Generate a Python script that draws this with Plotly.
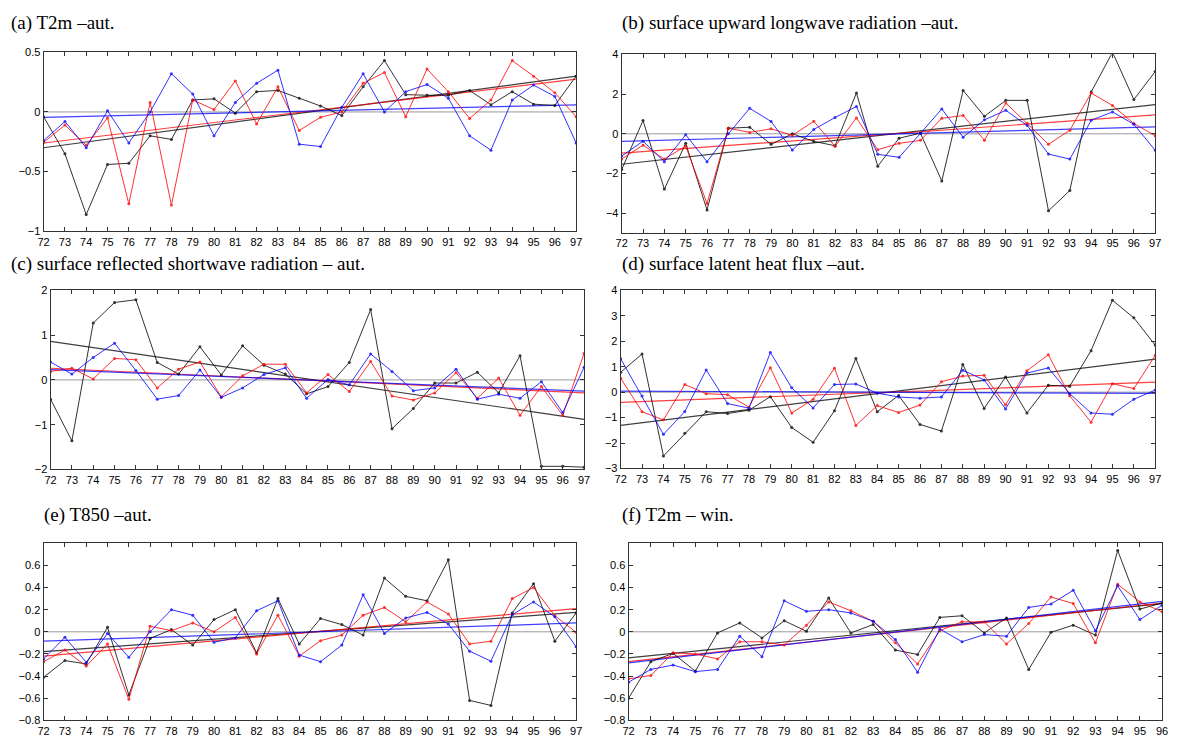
import plotly.graph_objects as go

years = [72, 73, 74, 75, 76, 77, 78, 79, 80, 81, 82, 83, 84,
         85, 86, 87, 88, 89, 90, 91, 92, 93, 94, 95, 96, 97]
years_win = years[:-1]

# (a) T2m aut
a_black = [-0.04, -0.35, -0.86, -0.44, -0.43, -0.20, -0.23, 0.10, 0.11, -0.01, 0.17, 0.18, 0.115,
           0.05, -0.03, 0.21, 0.43, 0.145, 0.14, 0.14, 0.18, 0.06, 0.17, 0.065, 0.055, 0.30]
a_red = [-0.255, -0.11, -0.28, -0.05, -0.77, 0.08, -0.78, 0.10, 0.02, 0.26, -0.10, 0.21, -0.155,
         -0.045, 0.00, 0.24, 0.33, -0.04, 0.36, 0.17, -0.055, 0.10, 0.43, 0.30, 0.16, -0.04]
a_blue = [-0.24, -0.08, -0.30, 0.01, -0.26, 0.00, 0.32, 0.15, -0.20, 0.08, 0.24, 0.35, -0.27,
          -0.29, 0.04, 0.32, 0.00, 0.17, 0.23, 0.115, -0.20, -0.32, 0.10, 0.225, 0.13, -0.26]
a_trend = {"black": [-0.30, 0.30], "red": [-0.26, 0.275], "blue": [-0.045, 0.06]}

# (b) surface upward longwave radiation aut
b_black = [-1.8, 0.67, -2.78, -0.48, -3.83, 0.28, 0.33, -0.53, 0.0, -0.38, -0.6, 2.05, -1.63,
           -0.22, 0.03, -2.37, 2.18, 0.88, 1.68, 1.68, -3.87, -2.85, 2.1, 4.1, 1.72, 3.13]
b_red = [-1.27, -0.57, -1.27, -0.62, -3.5, 0.28, 0.07, 0.25, -0.08, 0.63, -0.63, 0.8, -0.8,
         -0.48, -0.33, 0.78, 0.92, -0.32, 1.55, 0.53, -0.53, 0.18, 2.05, 1.42, 0.52, -0.1]
b_blue = [-1.12, -0.37, -1.4, -0.05, -1.4, 0.0, 1.28, 0.62, -0.82, 0.22, 0.82, 1.37, -1.03,
          -1.18, 0.02, 1.25, -0.17, 0.7, 1.18, 0.42, -1.02, -1.27, 0.68, 1.1, 0.48, -0.83]
b_trend = {"black": [-1.53, 1.47], "red": [-0.97, 0.95], "blue": [-0.38, 0.35]}

# (c) surface reflected shortwave radiation aut
c_black = [-0.43, -1.36, 1.27, 1.73, 1.79, 0.39, 0.13, 0.74, 0.11, 0.76, 0.33, 0.13, -0.31,
           -0.15, 0.39, 1.57, -1.09, -0.64, -0.07, -0.07, 0.17, -0.29, 0.54, -1.93, -1.93, -1.95]
c_red = [0.19, 0.26, 0.02, 0.48, 0.45, -0.18, 0.24, 0.40, -0.38, 0.09, 0.35, 0.35, -0.29,
         0.12, -0.26, 0.41, -0.36, -0.45, -0.29, 0.16, -0.41, 0.04, -0.79, -0.15, -0.79, 0.59]
c_blue = [0.40, 0.13, 0.50, 0.82, 0.21, -0.43, -0.35, 0.22, -0.39, -0.18, 0.12, 0.27, -0.41,
          0.01, -0.11, 0.58, 0.19, -0.24, -0.18, 0.24, -0.43, -0.32, -0.41, -0.04, -0.73, 0.28]
c_trend = {"black": [0.86, -0.88], "red": [0.26, -0.29], "blue": [0.23, -0.25]}

# (d) surface latent heat flux aut
d_black = [0.78, 1.50, -2.51, -1.62, -0.77, -0.84, -0.71, -0.18, -1.39, -1.97, -0.73, 1.32, -0.77,
           -0.13, -1.27, -1.53, 1.09, -0.64, 0.59, -0.82, 0.27, 0.23, 1.63, 3.61, 2.92, 1.85]
d_red = [0.55, -0.77, -1.09, 0.30, -0.06, -0.10, -0.59, 0.96, -0.82, -0.28, 0.94, -1.31, -0.53,
         -0.80, -0.51, 0.41, 0.63, 0.66, -0.50, 0.84, 1.47, -0.14, -1.18, 0.33, 0.14, 1.44]
d_blue = [1.31, -0.15, -1.66, -0.76, 0.87, -0.45, -0.63, 1.56, 0.17, -0.62, 0.30, 0.32, -0.04,
          -0.19, -0.24, -0.19, 0.86, 0.48, -0.66, 0.75, 0.95, -0.06, -0.82, -0.87, -0.28, 0.08]
d_trend = {"black": [-1.31, 1.30], "red": [-0.40, 0.39], "blue": [0.04, -0.05]}

# (e) T850 aut
e_black = [-0.41, -0.26, -0.29, 0.04, -0.57, -0.06, 0.02, -0.12, 0.11, 0.20, -0.19, 0.30, -0.11,
           0.12, 0.065, -0.03, 0.485, 0.32, 0.28, 0.65, -0.62, -0.665, 0.17, 0.435, -0.085, 0.17]
e_red = [-0.27, -0.165, -0.31, -0.11, -0.61, 0.05, 0.01, 0.08, 0.00, 0.13, -0.20, 0.15, -0.22,
         -0.08, -0.03, 0.15, 0.22, 0.09, 0.27, 0.16, -0.11, -0.085, 0.30, 0.40, 0.145, -0.005]
e_blue = [-0.245, -0.05, -0.275, -0.015, -0.23, 0.00, 0.20, 0.15, -0.095, -0.055, 0.19, 0.28, -0.21,
          -0.27, -0.12, 0.335, -0.015, 0.125, 0.175, 0.07, -0.175, -0.265, 0.155, 0.27, 0.135, -0.135]
e_trend = {"black": [-0.18, 0.175], "red": [-0.22, 0.21], "blue": [-0.085, 0.08]}

# (f) T2m win
f_black = [-0.60, -0.27, -0.195, -0.355, -0.01, 0.08, -0.055, 0.10, 0.005, 0.305, -0.01, 0.065, -0.165,
           -0.205, 0.13, 0.145, -0.01, 0.125, -0.34, -0.005, 0.06, -0.03, 0.735, 0.205, 0.26]
f_red = [-0.425, -0.395, -0.19, -0.20, -0.245, -0.09, -0.09, -0.12, 0.06, 0.27, 0.19, 0.095, -0.10,
         -0.29, 0.01, 0.09, 0.09, -0.11, 0.075, 0.315, 0.255, -0.10, 0.43, 0.27, 0.18]
f_blue = [-0.455, -0.34, -0.30, -0.36, -0.34, -0.04, -0.225, 0.28, 0.185, 0.20, 0.17, 0.095, -0.07,
          -0.365, 0.025, -0.09, -0.025, -0.04, 0.22, 0.25, 0.375, 0.01, 0.415, 0.11, 0.24]
f_trend = {"black": [-0.235, 0.255], "red": [-0.27, 0.26], "blue": [-0.28, 0.275]}

titles = ["(a) T2m \u2013aut.",
          "(b) surface upward longwave radiation \u2013aut.",
          "(c) surface reflected shortwave radiation \u2013 aut.",
          "(d) surface latent heat flux \u2013aut.",
          "(e) T850 \u2013aut.",
          "(f) T2m \u2013 win."]

W, H = 1180, 748
# pixel boxes: left, right, top, bottom
boxes = [(38, 576, 47, 229), (622, 1161, 49, 231),
         (45, 584, 289, 471), (621, 1161, 289, 470),
         (38, 576, 546, 726), (629, 1168, 546, 726)]
title_pos = [(3, 17), (620, 17), (3, 262), (620, 262), (36, 517), (620, 517)]
yranges = [[-1, 0.5], [-5, 4], [-2, 2], [-3, 4], [-0.8, 0.8], [-0.8, 0.8]]
ytickvals = [[-1, -0.5, 0, 0.5], [-4, -2, 0, 2, 4], [-2, -1, 0, 1, 2],
             [-3, -2, -1, 0, 1, 2, 3, 4],
             [-0.8, -0.6, -0.4, -0.2, 0, 0.2, 0.4, 0.6],
             [-0.8, -0.6, -0.4, -0.2, 0, 0.2, 0.4, 0.6]]

panels = [
    (years, a_black, a_red, a_blue, a_trend),
    (years, b_black, b_red, b_blue, b_trend),
    (years, c_black, c_red, c_blue, c_trend),
    (years, d_black, d_red, d_blue, d_trend),
    (years, e_black, e_red, e_blue, e_trend),
    (years_win, f_black, f_red, f_blue, f_trend),
]

colors = {"black": "#000000", "red": "#ff0000", "blue": "#0000ff"}

fig = go.Figure()
layout = dict(width=W, height=H, margin=dict(l=0, r=0, t=0, b=0),
              paper_bgcolor="white", plot_bgcolor="white", showlegend=False,
              annotations=[], shapes=[])

for i, (xs, blk, red, blu, trend) in enumerate(panels):
    n = i + 1
    xa = "x" if n == 1 else f"x{n}"
    ya = "y" if n == 1 else f"y{n}"
    l, r, t, b = boxes[i]
    axcommon = dict(showgrid=False, zeroline=False, showline=True, linecolor="#333333",
                    linewidth=1, mirror="ticks", ticks="inside", ticklen=4,
                    tickcolor="#333333",
                    tickfont=dict(family="Liberation Sans, Arial", size=11, color="#000"))
    layout["xaxis" if n == 1 else f"xaxis{n}"] = dict(
        domain=[l / W, r / W], anchor=ya, range=[xs[0], xs[-1]],
        tickvals=xs, ticktext=[str(v) for v in xs], tickangle=0, **axcommon)
    layout["yaxis" if n == 1 else f"yaxis{n}"] = dict(
        domain=[1 - b / H, 1 - t / H], anchor=xa, range=yranges[i],
        tickvals=ytickvals[i], **axcommon)
    # zero reference line
    layout["shapes"].append(dict(type="line", xref=f"{xa} domain", yref=ya,
                                 x0=0, x1=1, y0=0, y1=0,
                                 line=dict(color="#9a9a9a", width=1), layer="below"))
    # trend lines
    for key in ["black", "red", "blue"]:
        fig.add_trace(go.Scatter(x=[xs[0], xs[-1]], y=trend[key], mode="lines",
                                 line=dict(color=colors[key], width=1.2), opacity=0.75,
                                 xaxis=xa, yaxis=ya, hoverinfo="skip"))
    # data series
    for key, vals in [("black", blk), ("red", red), ("blue", blu)]:
        fig.add_trace(go.Scatter(x=xs, y=vals, mode="lines+markers",
                                 line=dict(color=colors[key], width=1),
                                 marker=dict(color=colors[key], size=3),
                                 opacity=0.8, xaxis=xa, yaxis=ya))
    tx, ty = title_pos[i]
    layout["annotations"].append(dict(text=titles[i], xref="paper", yref="paper",
                                      x=tx / W, y=1 - ty / H, xanchor="left", yanchor="middle",
                                      showarrow=False,
                                      font=dict(family="Liberation Serif, Times New Roman", size=19,
                                                color="#000")))

fig.update_layout(**layout)
fig.write_html("out.html")
